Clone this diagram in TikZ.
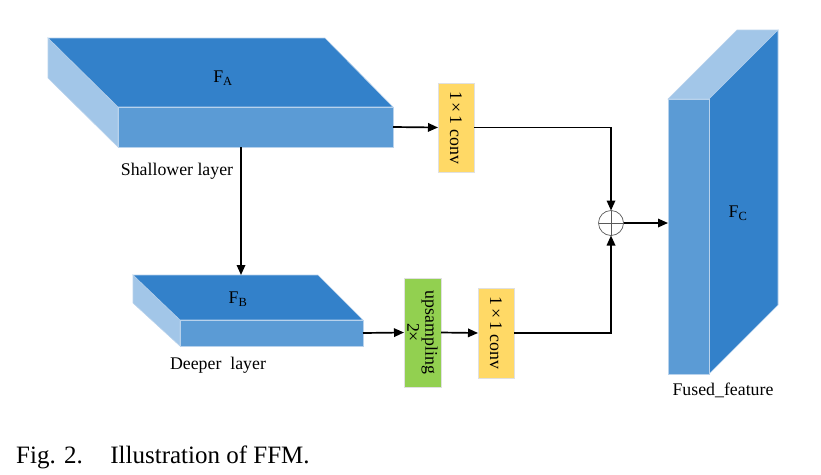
\documentclass[tikz,border=0pt]{standalone}
\usepackage{fontspec}
\setmainfont{Liberation Serif}
\usetikzlibrary{arrows.meta,calc}
\definecolor{topblue}{HTML}{3381CA}
\definecolor{frontblue}{HTML}{5B9BD5}
\definecolor{sideblue}{HTML}{A2C6E8}
\definecolor{edgeblue}{HTML}{B8D2EC}
\definecolor{convyellow}{HTML}{FFD966}
\definecolor{upgreen}{HTML}{92D050}
\tikzset{
  lbl/.style={font=\fontsize{17.8}{20}\selectfont, inner sep=0pt},
  face/.style={draw=edgeblue, line width=0.6pt},
  frontface/.style={face, fill=frontblue, inner sep=0pt, outer sep=0pt},
  opbox/.style={draw=black!12, line width=0.6pt, inner sep=0pt, outer sep=0pt,
    font=\fontsize{17.8}{18}\selectfont, align=center},
  conn/.style={line width=1.7pt, -{Triangle[length=10pt,width=8.5pt]}},
}
\begin{document}
\begin{tikzpicture}[x=1pt,y=-1pt]
\useasboundingbox (0,0) rectangle (821,474);
% ---- Block A (shallower) ----
\node[frontface, minimum width=275pt, minimum height=40pt] (Afront) at (255.5,127) {};
\fill[face, fill=sideblue] (48,38) -- (Afront.north west) -- (Afront.south west) -- (48,78) -- cycle;
\fill[face, fill=topblue] (48,38) -- (325,38) -- (Afront.north east) -- (Afront.north west) -- cycle;
\node[frontface, minimum width=275pt, minimum height=40pt] at (255.5,127) {};
\node[lbl] (FA) at (223,78) {F\textsubscript{A}};
\node[lbl] (shallow) at (177,171) {Shallower layer};
% ---- Block B (deeper) ----
\node[frontface, minimum width=183pt, minimum height=26pt] (Bfront) at (271.5,333) {};
\fill[face, fill=sideblue] (133,275) -- (Bfront.north west) -- (Bfront.south west) -- (133,303) -- cycle;
\fill[face, fill=topblue] (133,275) -- (318,275) -- (Bfront.north east) -- (Bfront.north west) -- cycle;
\node[frontface, minimum width=183pt, minimum height=26pt] at (271.5,333) {};
\node[lbl] (FB) at (238,299) {F\textsubscript{B}};
\node[lbl] (deep) at (218,365) {Deeper\ \ layer};
\coordinate (Btop) at (241,275);
% ---- Block C (fused) ----
\node[frontface, minimum width=41pt, minimum height=275pt] (Cfront) at (688.5,236.5) {};
\fill[face, fill=sideblue] (Cfront.north west) -- (737,30) -- (778,30) -- (Cfront.north east) -- cycle;
\fill[face, fill=topblue] (Cfront.north east) -- (778,30) -- (778,305) -- (Cfront.south east) -- cycle;
\node[frontface, minimum width=41pt, minimum height=275pt] at (688.5,236.5) {};
\node[lbl] (FC) at (738,213) {F\textsubscript{C}};
\node[lbl] (fused) at (723,390) {Fused\_feature};
% ---- operators ----
\node[opbox, fill=convyellow, minimum width=36pt, minimum height=89pt] (conv1) at (456,127.5) {};
\node[rotate=-90, font=\fontsize{17.8}{18}\selectfont, inner sep=0pt] at (conv1.center) {1\,×\,1 conv};
\node[opbox, fill=upgreen, minimum width=37pt, minimum height=109pt] (up) at (422.5,332.5) {};
\node[rotate=-90, font=\fontsize{17.8}{18}\selectfont, align=center, inner sep=0pt] at (up.center) {upsampling\\2×};
\node[opbox, fill=convyellow, minimum width=36pt, minimum height=90pt] (conv2) at (496,333) {};
\node[rotate=-90, font=\fontsize{17.8}{18}\selectfont, inner sep=0pt] at (conv2.center) {1\,×\,1 conv};
\node[circle, draw=black!65, line width=0.7pt, minimum size=25pt, inner sep=0pt, outer sep=0pt] (sum) at (611,223) {};
\draw[black!65, line width=0.7pt] (sum.north) -- (sum.south) (sum.west) -- (sum.east);
% ---- connectors ----
\draw[conn] (Afront.east) -- (conv1.west);
\draw[conn] (Afront.south -| Btop) -- (Btop);
\draw[conn] (Bfront.east) -- (up.west);
\draw[conn] (up.east) -- (conv2.west);
\draw[conn] (conv1.east) -| (sum.north);
\draw[conn] (conv2.east) -| (sum.south);
\draw[conn] (sum.east) -- (sum.east -| Cfront.west);
% ---- caption ----
\node[anchor=base west, inner sep=0pt, font=\fontsize{25}{28}\selectfont] (caption) at (16,463) {Fig. 2.\hspace{1.1em}Illustration of FFM.};
\end{tikzpicture}
\end{document}
